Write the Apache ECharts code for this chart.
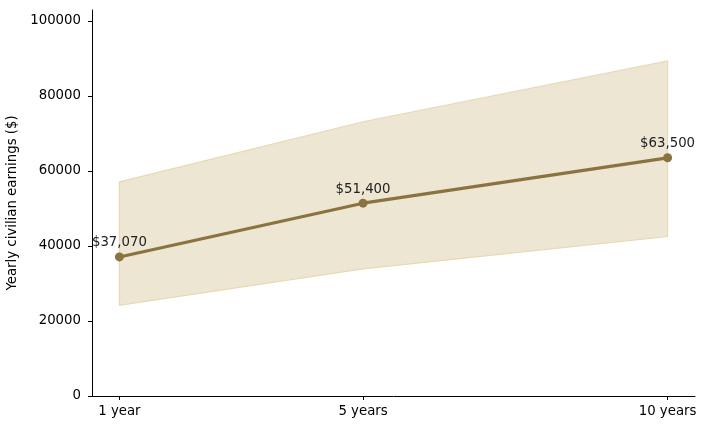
<!DOCTYPE html>
<html><head><meta charset="utf-8">
<script src="https://cdn.jsdelivr.net/npm/echarts@6/dist/echarts.min.js"></script>
<style>html,body{margin:0;padding:0;background:#fff}#c{width:707px;height:430px}</style>
</head><body><div id="c"></div>
<script>
const years = [1, 5, 10];
const tickLabels = ['1 year', '5 years', '10 years'];
const median = [37070, 51400, 63500];
const bandLow = [24200, 33900, 42500];
const bandHigh = [57100, 73100, 89300];
const yTicks = [0, 20000, 40000, 60000, 80000, 100000];

const font = 'DejaVu Sans';
const lineColor = '#8B7340';
const labelMap = {}; years.forEach((y, i) => labelMap[y] = tickLabels[i]);

const chart = echarts.init(document.getElementById('c'));
chart.setOption({
  animation: false,
  grid: { left: 92, right: 12, top: 10, bottom: 34, containLabel: false, outerBoundsMode: 'none' },
  xAxis: {
    type: 'value', min: 0.55, max: 10.45,
    splitLine: { show: false },
    axisLine: { lineStyle: { color: '#000', width: 1 } },
    axisTick: { show: true, length: 4, customValues: years, lineStyle: { color: '#000' } },
    axisLabel: { customValues: years, formatter: v => labelMap[v] || '', color: '#000', fontFamily: font, fontSize: 13.3, margin: 9 }
  },
  yAxis: {
    type: 'value', min: 0, max: 102900,
    name: 'Yearly civilian earnings ($)', nameLocation: 'middle', nameGap: 65,
    nameTextStyle: { color: '#000', fontFamily: font, fontSize: 13.3 },
    splitLine: { show: false },
    axisLine: { show: true, lineStyle: { color: '#000', width: 1 } },
    axisTick: { show: true, length: 4, customValues: yTicks, lineStyle: { color: '#000' } },
    axisLabel: { customValues: yTicks, formatter: v => String(v), color: '#000', fontFamily: font, fontSize: 13.3, margin: 11 }
  },
  series: [
    {
      type: 'custom', silent: true, z: 1,
      data: [0],
      renderItem: (params, api) => {
        const pts = [];
        years.forEach((x, i) => pts.push(api.coord([x, bandHigh[i]])));
        for (let i = years.length - 1; i >= 0; i--) pts.push(api.coord([years[i], bandLow[i]]));
        return {
          type: 'polygon',
          shape: { points: pts },
          style: { fill: '#EDE6D2', stroke: '#E6D9B4', lineWidth: 1.2 }
        };
      }
    },
    {
      type: 'line', symbol: 'circle', symbolSize: 9, z: 3,
      data: years.map((x, i) => [x, median[i]]),
      lineStyle: { color: lineColor, width: 3.2 },
      itemStyle: { color: lineColor },
      label: {
        show: true, position: 'top', distance: 3,
        formatter: p => '$' + p.value[1].toLocaleString('en-US'),
        color: '#222', fontFamily: font, fontSize: 13.3
      }
    }
  ]
});
</script></body></html>
